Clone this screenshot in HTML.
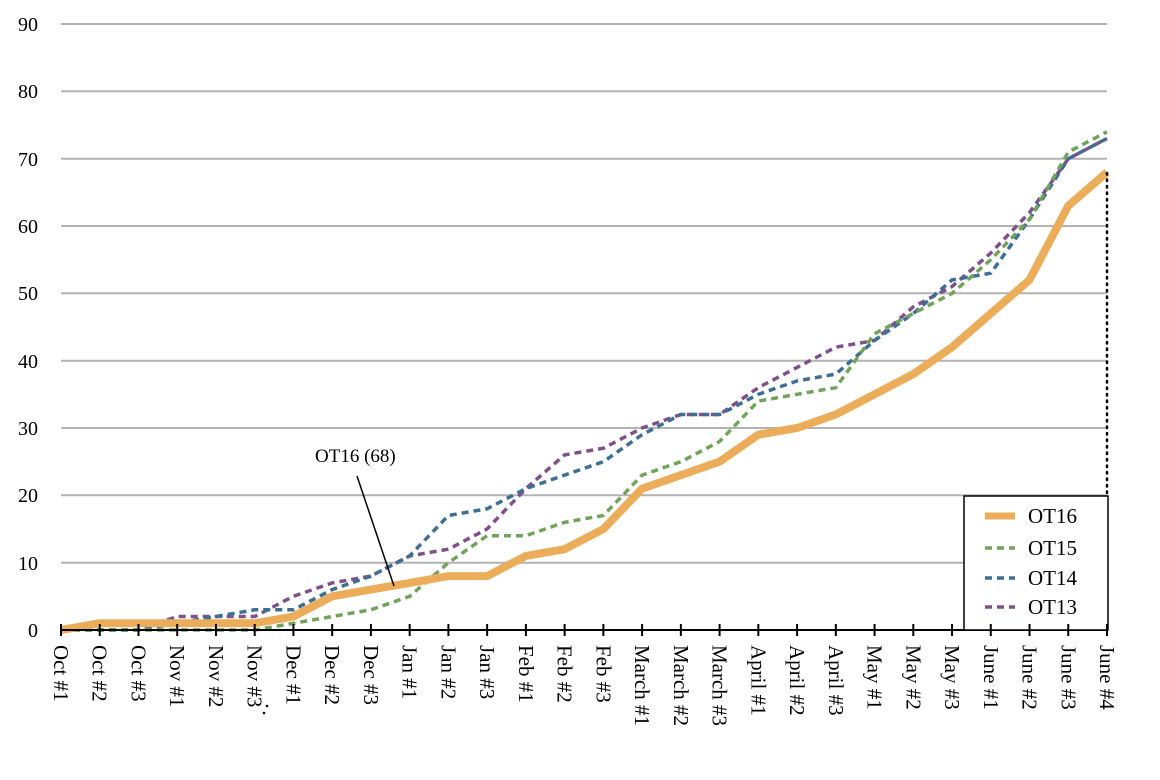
<!DOCTYPE html>
<html><head><meta charset="utf-8"><style>
html,body{margin:0;padding:0;background:#fff;}
svg{display:block;font-family:"Liberation Serif",serif;}
</style></head><body>
<svg width="1160" height="780" xmlns="http://www.w3.org/2000/svg">
<g stroke="#b3b3b3" stroke-width="2">
<line x1="61" x2="1107" y1="24" y2="24"/><line x1="61" x2="1107" y1="91.3" y2="91.3"/>
<line x1="61" x2="1107" y1="158.7" y2="158.7"/><line x1="61" x2="1107" y1="226" y2="226"/>
<line x1="61" x2="1107" y1="293.3" y2="293.3"/><line x1="61" x2="1107" y1="360.7" y2="360.7"/>
<line x1="61" x2="1107" y1="428" y2="428"/><line x1="61" x2="1107" y1="495.3" y2="495.3"/>
<line x1="61" x2="1107" y1="562.7" y2="562.7"/>
</g>
<g font-size="20" text-anchor="end" fill="#000">
<text x="38" y="31">90</text><text x="38" y="98">80</text><text x="38" y="166">70</text>
<text x="38" y="233">60</text><text x="38" y="300">50</text><text x="38" y="368">40</text>
<text x="38" y="435">30</text><text x="38" y="502">20</text><text x="38" y="570">10</text>
<text x="38" y="637">0</text>
</g>
<g id="chart"></g>
<line x1="1107" y1="173" x2="1107" y2="630" stroke="#000" stroke-width="2.5" stroke-dasharray="1.5 5" stroke-linecap="round"/>
<line x1="61" x2="1108" y1="630" y2="630" stroke="#000" stroke-width="2"/>
<text x="315" y="462" font-size="19">OT16 (68)</text>
<line x1="357" y1="476" x2="394" y2="586" stroke="#000" stroke-width="1.5"/>
<circle cx="267" cy="706" r="1.3" fill="#000"/><circle cx="264" cy="713" r="1.3" fill="#000"/>
<rect x="964" y="496" width="144" height="134" fill="#fff" stroke="#000" stroke-width="1.5"/>
<line x1="985" x2="1015" y1="516" y2="516" stroke="#ecad5a" stroke-width="7"/>
<line x1="985" x2="1015" y1="548" y2="548" stroke="#72a35b" stroke-width="3.5" stroke-dasharray="7 5"/>
<line x1="985" x2="1015" y1="578" y2="578" stroke="#3d6f94" stroke-width="3.5" stroke-dasharray="7 5"/>
<line x1="985" x2="1015" y1="607" y2="607" stroke="#7e5189" stroke-width="3.5" stroke-dasharray="7 5"/>
<g font-size="21"><text x="1028" y="523">OT16</text><text x="1028" y="555">OT15</text><text x="1028" y="585">OT14</text><text x="1028" y="614">OT13</text></g>
<g id="labels" font-size="21"></g>
</svg>
<script>
const X=i=>61+i*(1046/27), Y=v=>630-v*6.733;
const S=[
["#7e5189",3.5,"7 5",[0,0,0,2,2,2,5,7,8,11,12,15,21,26,27,30,32,32,36,39,42,43,48,51,56,62,70,73]],
["#3d6f94",3.5,"7 5",[0,0,0,1,2,3,3,6,8,11,17,18,21,23,25,29,32,32,35,37,38,43,47,52,53,61,70,73]],
["#72a35b",3.5,"7 5",[0,0,0,0,0,0,1,2,3,5,10,14,14,16,17,23,25,28,34,35,36,44,47,50,55,61,71,74]],
["#ecad5a",8,"",[0,1,1,1,1,1,2,5,6,7,8,8,11,12,15,21,23,25,29,30,32,35,38,42,47,52,63,68]]];
let h="";
for(const [c,w,d,v] of S){h+=`<polyline fill="none" stroke="${c}" stroke-width="${w}" ${d?`stroke-dasharray="${d}"`:""} stroke-linejoin="miter" points="${v.map((a,i)=>X(i).toFixed(1)+","+Y(a).toFixed(1)).join(" ")}"/>`;}
document.getElementById("chart").innerHTML=h;
const L=["Oct #1","Oct #2","Oct #3","Nov #1","Nov #2","Nov #3","Dec #1","Dec #2","Dec #3","Jan #1","Jan #2","Jan #3","Feb #1","Feb #2","Feb #3","March #1","March #2","March #3","April #1","April #2","April #3","May #1","May #2","May #3","June #1","June #2","June #3","June #4"];
let t="";
L.forEach((s,i)=>{const x=X(i);t+=`<line x1="${x}" x2="${x}" y1="624" y2="636" stroke="#000" stroke-width="2"/><text transform="translate(${x-7},645) rotate(90)">${s}</text>`;});
document.getElementById("labels").innerHTML=t;
</script>
</body></html>
